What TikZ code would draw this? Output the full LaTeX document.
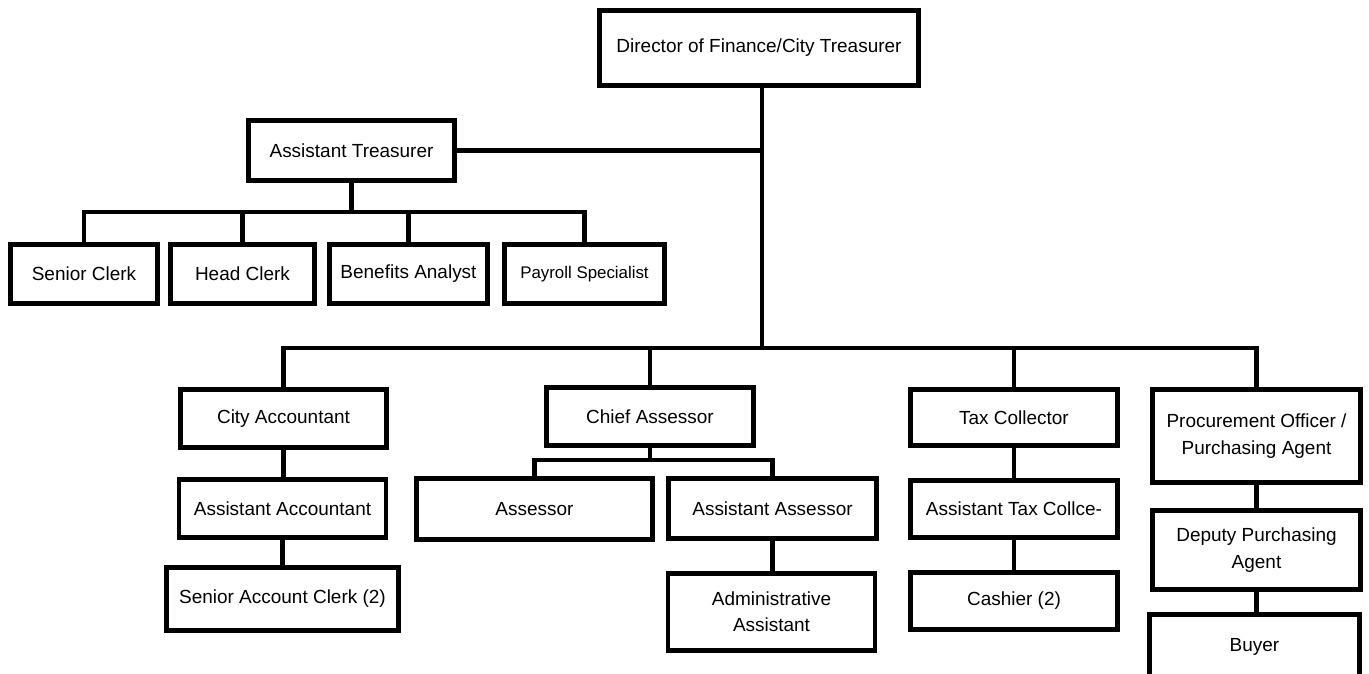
\documentclass[tikz,border=0pt]{standalone}
\usepackage{fontspec}
\setmainfont{Liberation Sans}
\usepackage{tikz}
\tikzset{
  bx/.style={draw,line width=2.8pt,inner sep=0pt,align=center,font=\fontsize{10.8}{15}\selectfont},
  sz/.style 2 args={minimum width=#1*0.02cm,minimum height=#2*0.02cm},
  ln/.style={line width=2.3pt}
}

\begin{document}
\begin{tikzpicture}[x=0.02cm,y=-0.02cm]
\useasboundingbox (0,0) rectangle (1369,673);
\clip (0,0) rectangle (1369,673);
\node[bx,sz={319}{75}] (dir) at (759,48) {Director of Finance/City Treasurer};
\node[bx,sz={206}{60}] (at) at (351.5,150.5) {Assistant Treasurer};
\node[bx,sz={147}{59}] (sc) at (84,274) {Senior Clerk};
\node[bx,sz={144}{59}] (hc) at (242.5,274) {Head Clerk};
\node[bx,sz={158}{59}] (ba) at (408.5,274) {Benefits Analyst};
\node[bx,sz={160}{59},font=\fontsize{9.6}{12}\selectfont] (ps) at (584.5,274) {Payroll Specialist};
\node[bx,sz={206}{58}] (ca) at (283.5,418.5) {City Accountant};
\node[bx,sz={207}{58}] (ch) at (650,416.5) {Chief Assessor};
\node[bx,sz={207}{56}] (tc) at (1014,417.5) {Tax Collector};
\node[bx,sz={208}{93}] (po) at (1256.5,436) {Procurement Officer /\\Purchasing Agent};
\node[bx,sz={207}{58}] (aa) at (282.5,508.5) {Assistant Accountant};
\node[bx,sz={236}{61}] (as) at (534.5,509) {Assessor};
\node[bx,sz={208}{60}] (aas) at (772.5,508.5) {Assistant Assessor};
\node[bx,sz={207}{57}] (atc) at (1014,509) {Assistant Tax Collce-};
\node[bx,sz={208}{79}] (dpa) at (1256.5,550) {Deputy Purchasing\\Agent};
\node[bx,sz={232}{63}] (sac) at (282.5,599) {Senior Account Clerk (2)};
\node[bx,sz={207}{77}] (adm) at (771.5,612) {Administrative\\Assistant};
\node[bx,sz={207}{57}] (cas) at (1014,601) {Cashier (2)};
\node[bx,sz={210}{65}] (buy) at (1254.5,647) {Buyer};
\coordinate (b1) at (351.5,212);
\coordinate (b2) at (762,348);
\coordinate (b3) at (650,460);
\draw[ln] (b2 |- dir.south) -- (b2);
\draw[ln] (at.east) -- (at.east -| b2);
\draw[ln] (at.south) -- (b1);
\draw[ln] (sc.north) |- (b1) -| (ps.north);
\draw[ln] (hc.north) -- (hc.north |- b1);
\draw[ln] (ba.north) -- (ba.north |- b1);
\draw[ln] (ca.north) |- (b2) -| (po.north);
\draw[ln] (ch.north) -- (ch.north |- b2);
\draw[ln] (tc.north) -- (tc.north |- b2);
\draw[ln] (ch.south) -- (b3);
\draw[ln] (as.north) |- (b3) -| (aas.north);
\draw[ln] (ca.south) -- (ca.south |- aa.north);
\draw[ln] (aa.south) -- (aa.south |- sac.north);
\draw[ln] (aas.south) -- (aas.south |- adm.north);
\draw[ln] (tc.south) -- (atc.north);
\draw[ln] (atc.south) -- (cas.north);
\draw[ln] (po.south) -- (po.south |- dpa.north);
\draw[ln] (dpa.south) -- (dpa.south |- buy.north);
\end{tikzpicture}
\end{document}
